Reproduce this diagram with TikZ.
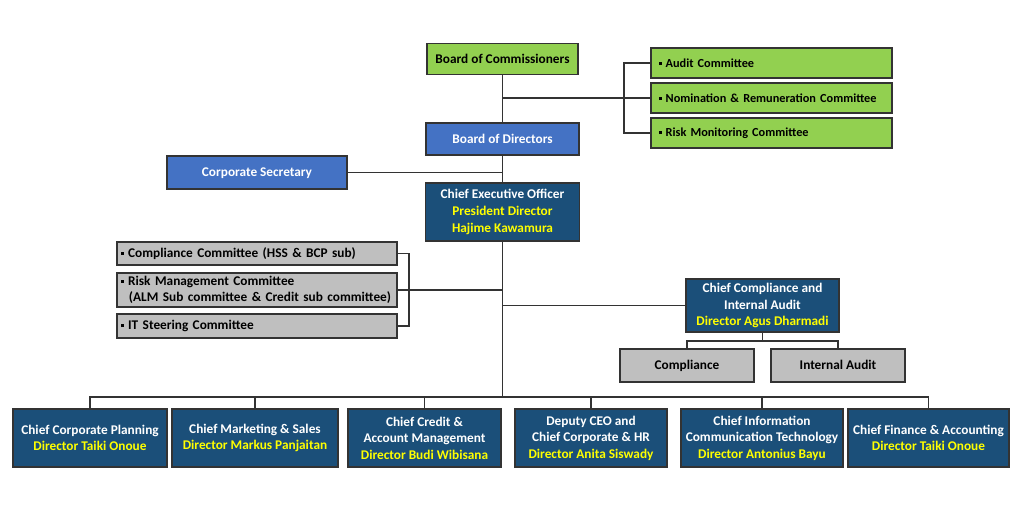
\documentclass[tikz,border=0pt]{standalone}
\usepackage{fontspec}
\setmainfont{Carlito}
\usetikzlibrary{calc}
\definecolor{grn}{HTML}{92D050}
\definecolor{lblue}{HTML}{4472C4}
\definecolor{navy}{HTML}{1B4F79}
\definecolor{gry}{HTML}{BFBFBF}
\definecolor{ylw}{HTML}{FFFF00}
\definecolor{edge}{HTML}{333333}
\newcommand{\bul}{\rule[0.18em]{0.24em}{0.24em}\hspace{0.3em}}
\newcommand{\yl}[1]{\textcolor{ylw}{#1}}
\tikzset{
  base/.style={draw=edge, line width=1.1pt, inner sep=0pt, outer sep=0pt, font=\fontsize{13.3}{16.6}\selectfont\bfseries, align=center},
  gbox/.style={base, fill=grn, text=black},
  gcom/.style={gbox, font=\fontsize{12.3}{15}\selectfont\bfseries, minimum width=241pt, minimum height=30pt, text width=225pt, align=left},
  lbox/.style={base, fill=lblue, text=white},
  nbox/.style={base, fill=navy, text=white},
  ybox/.style={base, fill=gry, text=black},
  ycom/.style={ybox, minimum width=280pt, text width=272pt, align=left},
  one/.style={text height=10.6pt, text depth=2pt},
  conn/.style={draw=edge, line width=1.2pt},
}
\begin{document}
\begin{tikzpicture}[x=1pt,y=-1pt]
\fill[white] (0,0) rectangle (1024,510);
\useasboundingbox (0,0) rectangle (1024,510);
% top
\node[gbox, one, minimum width=151pt, minimum height=31pt] (boc) at (502.5,59) {Board of Commissioners};
\node[gcom] (aud) at (771.5,63) {\mbox{\bul Audit Committee}};
\node[gcom] (nom) at (771.5,98) {\mbox{\bul Nomination \& Remuneration Committee}};
\node[gcom] (rmc) at (771.5,133) {\mbox{\bul Risk Monitoring Committee}};
\node[lbox, one, minimum width=153pt, minimum height=32pt] (bod) at (502.5,139) {Board of Directors};
\node[lbox, one, minimum width=180pt, minimum height=33pt] (cs) at (257,172.5) {Corporate Secretary};
\node[nbox, minimum width=154pt, minimum height=58pt] (ceo) at (502.5,212) {Chief Executive Officer\\\yl{President Director}\\\yl{Hajime Kawamura}};
% left committees
\node[ycom, minimum height=23pt] (cc) at (257,253.5) {\mbox{\bul Compliance Committee (HSS \& BCP sub)}};
\node[ycom, minimum height=34pt] (rm) at (257,290) {\mbox{\bul Risk Management Committee}\\\mbox{\hspace{0.6em}(ALM Sub committee \& Credit sub committee)}};
\node[ycom, minimum height=24pt] (it) at (257,326) {\mbox{\bul IT Steering Committee}};
% compliance
\node[nbox, minimum width=153pt, minimum height=53pt] (cci) at (762.5,305.5) {Chief Compliance and\\Internal Audit\\\yl{Director Agus Dharmadi}};
\node[ybox, one, minimum width=134pt, minimum height=33pt] (comp) at (687,365.5) {Compliance};
\node[ybox, one, minimum width=134pt, minimum height=33pt] (ia) at (838,365.5) {Internal Audit};
% bottom row
\node[nbox, minimum width=154pt, minimum height=58pt] (b1) at (90,438) {Chief Corporate Planning\\\yl{Director Taiki Onoue}};
\node[nbox, minimum width=166pt, minimum height=58pt] (b2) at (255,438) {Chief Marketing \& Sales\\\yl{Director Markus Panjaitan}};
\node[nbox, minimum width=153pt, minimum height=58pt] (b3) at (424.5,438) {Chief Credit \&\\Account Management\\\yl{Director Budi Wibisana}};
\node[nbox, minimum width=152pt, minimum height=58pt] (b4) at (591,438) {Deputy CEO and\\Chief Corporate \& HR\\\yl{Director Anita Siswady}};
\node[nbox, minimum width=162pt, minimum height=58pt] (b5) at (762,438) {Chief Information\\Communication Technology\\\yl{Director Antonius Bayu}};
\node[nbox, minimum width=161pt, minimum height=58pt] (b6) at (928.5,438) {Chief Finance \& Accounting\\\yl{Director Taiki Onoue}};
% connectors
\coordinate (bus) at (502.5,397);
\draw[conn] (boc.south) -- (bod.north);
\draw[conn] (bod.south) -- (ceo.north);
\draw[conn] (ceo.south) -- (bus);
\draw[conn] (nom.west) -- (nom.west -| boc.south);
\draw[conn] (aud.west) -- ++(-27,0) |- (rmc.west);
\draw[conn] (cs.east) -- (cs.east -| bod.south);
\draw[conn] (cc.east) -- ++(12,0) |- (it.east);
\draw[conn] (rm.east) -- (rm.east -| ceo.south);
\draw[conn] (cci.west) -- (cci.west -| ceo.south);
\draw[conn] (cci.south) -- ++(0,9) coordinate (cj);
\draw[conn] (comp.north) |- (cj) -| (ia.north);
\draw[conn] (b1.north) |- (b6.north |- bus) -- (b6.north);
\foreach \b in {b2,b3,b4,b5} \draw[conn] (\b.north) -- (\b.north |- bus);
\end{tikzpicture}
\end{document}
